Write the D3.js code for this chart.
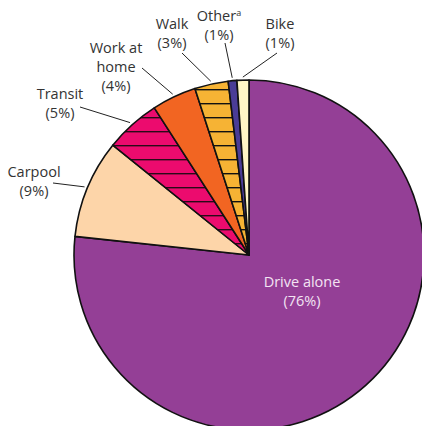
<!DOCTYPE html>
<html>
<head>
<meta charset="utf-8">
<script src="https://cdn.jsdelivr.net/npm/d3@7"></script>
<style>
  body { margin: 0; background: #fff; }
  .lbl { font-family: "Open Sans", sans-serif; font-size: 14.5px; fill: #333; }
</style>
</head>
<body>
<div id="chart"></div>
<script>
width = 422;
height = 426;

// data, clockwise from 12 o'clock
var modes = ["Drive alone", "Carpool", "Transit", "Work at home", "Walk", "Other", "Bike"];
var shares = [76.7, 9.1, 5.1, 4.1, 3.1, 0.8, 1.1];
var shareLabels = ["(76%)", "(9%)", "(5%)", "(4%)", "(3%)", "(1%)", "(1%)"];

var colors = ["#943f96", "#fdd5a9", "#ec0b6e", "#f26522", "#f6b334", "#4a3c97", "#fff6c6"];
var hatched = [false, false, true, false, true, false, false];

// where each label sits (text lines, anchor and where the leader starts)
var labelLayout = [
    {lines: ["Drive alone"], x: 302, y: 287, inside: true},
    {lines: ["Carpool"], x: 34, y: 177, lx: 53, ly: 183},
    {lines: ["Transit"], x: 60, y: 99, lx: 80, ly: 107},
    {lines: ["Work at", "home"], x: 116, y: 53, lx: 142, ly: 68},
    {lines: ["Walk"], x: 172, y: 29, lx: 182, ly: 53},
    {lines: ["Other"], x: 219, y: 21, lx: 225, ly: 43, sup: "a"},
    {lines: ["Bike"], x: 280, y: 29, lx: 277, ly: 53}
];

var cx = 249, cy = 255, radius = 175;
var lineH = 19;

var svg = d3.select("#chart")
    .append("svg")
    .attr("width", width)
    .attr("height", height);

// horizontal stripes used for transit and walk
var defs = svg.append("defs");
colors.forEach(function(c, i) {
    if (!hatched[i]) return;
    var p = defs.append("pattern")
        .attr("id", "hatch" + i)
        .attr("patternUnits", "userSpaceOnUse")
        .attr("width", 20)
        .attr("height", 14)
        .attr("y", 2);
    p.append("rect").attr("width", 20).attr("height", 14).attr("fill", c);
    p.append("line")
        .attr("x1", 0).attr("x2", 20)
        .attr("y1", 0.7).attr("y2", 0.7)
        .attr("stroke", i == 2 ? "#2a0a18" : "#111")
        .attr("stroke-width", 1.4);
});

var pie = d3.pie().sort(null).value(d => d);
var arcs = pie(shares);
var arc = d3.arc().innerRadius(0).outerRadius(radius);

var g = svg.append("g")
    .attr("transform", "translate(" + cx + "," + cy + ")");

g.selectAll("path.slice")
    .data(arcs)
    .enter()
    .append("path")
    .attr("class", "slice")
    .attr("d", arc)
    .attr("fill", (d, i) => hatched[i] ? "url(#hatch" + i + ")" : colors[i])
    .attr("stroke", "#111")
    .attr("stroke-width", 1.6)
    .attr("stroke-linejoin", "round");

// leader lines from the outer labels to the edge of their slice
var edge = d3.arc().innerRadius(radius + 3).outerRadius(radius + 3);
svg.selectAll("line.leader")
    .data(arcs.filter((d, i) => !labelLayout[i].inside))
    .enter()
    .append("line")
    .attr("class", "leader")
    .attr("x1", d => labelLayout[d.index].lx)
    .attr("y1", d => labelLayout[d.index].ly)
    .attr("x2", d => cx + edge.centroid(d)[0])
    .attr("y2", d => cy + edge.centroid(d)[1])
    .attr("stroke", "#222")
    .attr("stroke-width", 1);

// the labels
labelLayout.forEach(function(L, i) {
    var t = svg.append("text")
        .attr("class", "lbl")
        .attr("text-anchor", "middle")
        .style("fill", L.inside ? "#f3e4f3" : "#333");
    var rows = L.lines.concat([shareLabels[i]]);
    rows.forEach(function(r, k) {
        var ts = t.append("tspan")
            .attr("x", L.x)
            .attr("y", L.y + k * lineH)
            .text(r);
        if (k == 0 && L.sup) {
            t.append("tspan")
                .attr("dy", -5)
                .style("font-size", "9px")
                .text(L.sup);
        }
    });
});
</script>
</body>
</html>
